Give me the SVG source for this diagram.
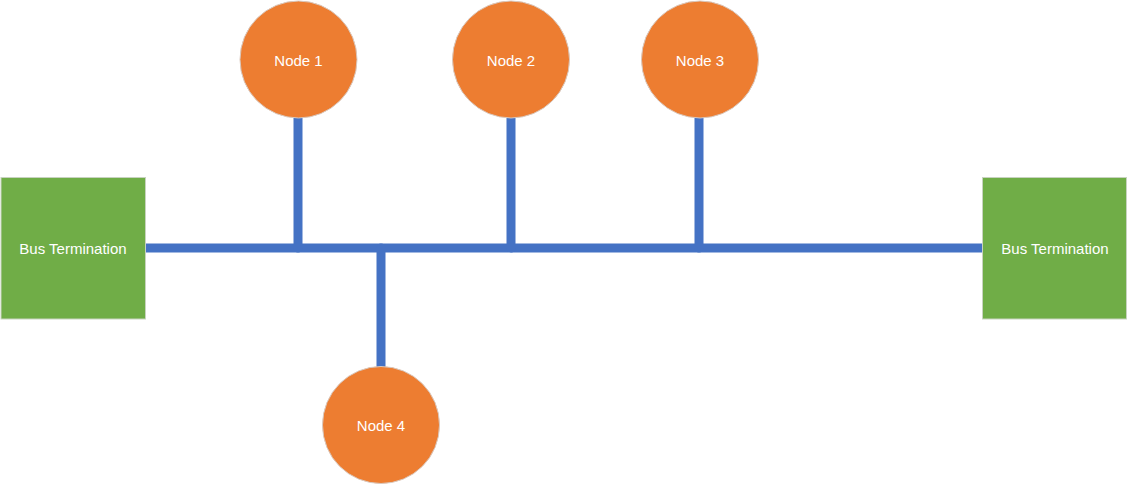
<svg xmlns="http://www.w3.org/2000/svg" width="1128" height="485" viewBox="0 0 1128 485">
<style>
.term{fill:#70AD47;stroke:#C8D3C0;stroke-width:1}
.node{fill:#ED7D31;stroke:#D9C9BF;stroke-width:1}
.lbl{fill:#FFFFFF;font-family:"Liberation Sans",Arial,sans-serif;font-size:15px;text-anchor:middle;dominant-baseline:central}
.bus{stroke:#4472C4;stroke-width:9;fill:none}
.drop{stroke:#4472C4;stroke-width:9;fill:none;stroke-linecap:round}
</style>
<rect width="1128" height="485" fill="#FFFFFF"/>
<g id="connectors">
<line class="bus" x1="145" y1="248" x2="983" y2="248"/>
<line class="drop" x1="298" y1="118" x2="298" y2="248"/>
<line class="drop" x1="511" y1="118" x2="511" y2="248"/>
<line class="drop" x1="699" y1="118" x2="699" y2="248"/>
<line class="drop" x1="381" y1="248" x2="381" y2="366"/>
</g>
<g id="term-left">
<rect class="term" x="1" y="177.5" width="144.5" height="141.5"/>
<text class="lbl" x="73" y="248">Bus Termination</text>
</g>
<g id="term-right">
<rect class="term" x="982.5" y="177.5" width="144" height="141.5"/>
<text class="lbl" x="1055" y="248">Bus Termination</text>
</g>
<g id="node1">
<circle class="node" cx="298.5" cy="59.5" r="58.5"/>
<text class="lbl" x="298.5" y="60">Node 1</text>
</g>
<g id="node2">
<circle class="node" cx="511" cy="59.5" r="58.5"/>
<text class="lbl" x="511" y="60">Node 2</text>
</g>
<g id="node3">
<circle class="node" cx="700" cy="59.5" r="58.5"/>
<text class="lbl" x="700" y="60">Node 3</text>
</g>
<g id="node4">
<circle class="node" cx="381" cy="425" r="58.5"/>
<text class="lbl" x="381" y="425">Node 4</text>
</g>
</svg>
